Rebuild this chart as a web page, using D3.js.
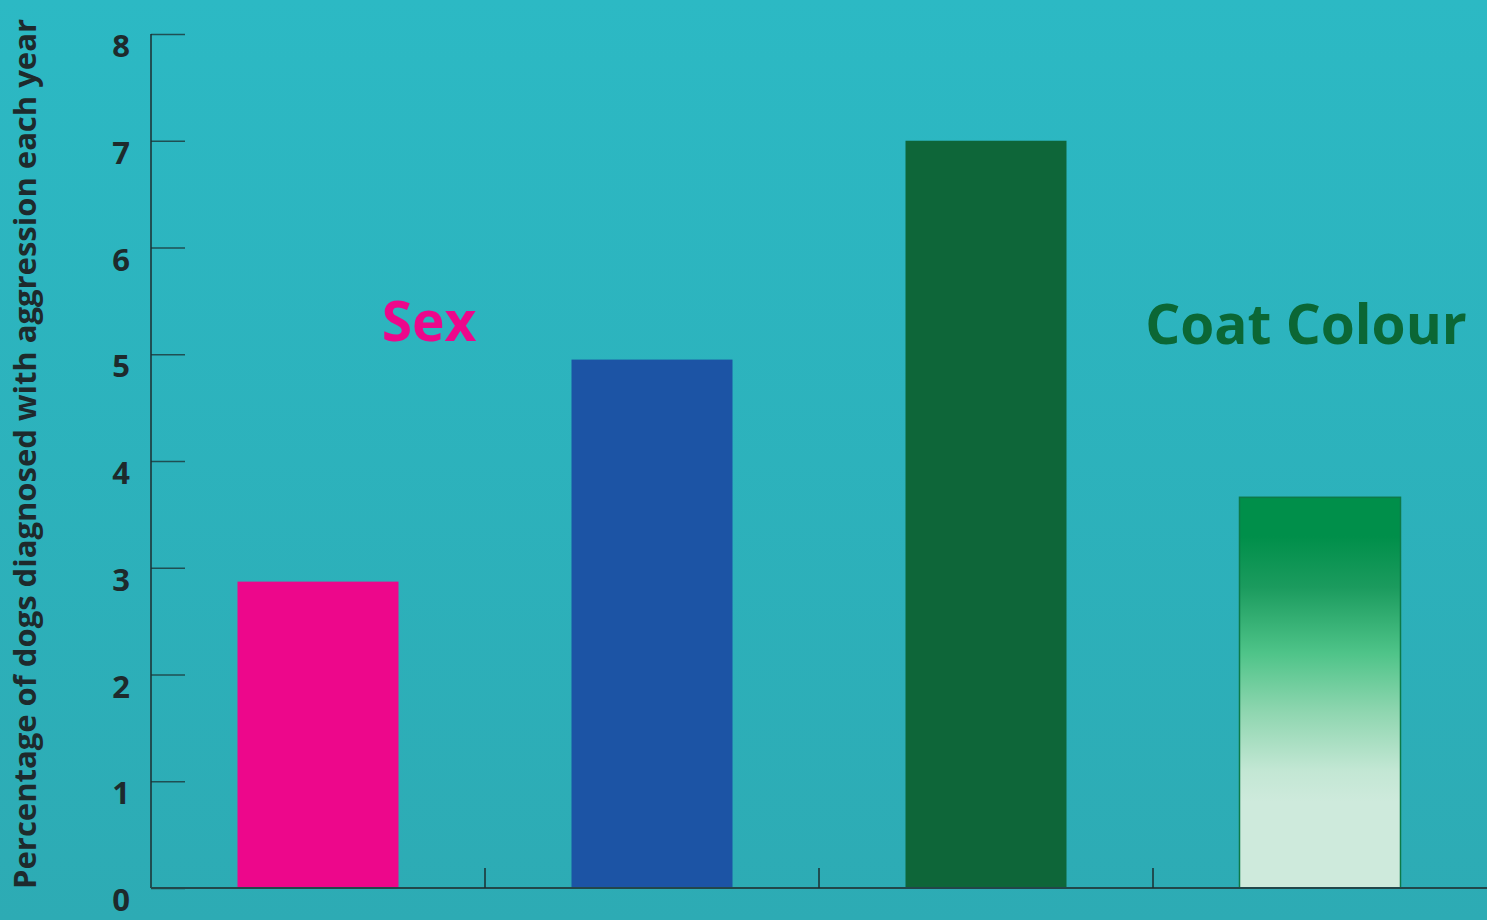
<!DOCTYPE html>
<html>
<head>
<meta charset="utf-8">
<script src="https://cdn.jsdelivr.net/npm/d3@7/dist/d3.min.js"></script>
<style>
  html, body { margin: 0; padding: 0; background: #2bb3bd; }
  svg { display: block; }
  text { font-family: "Open Sans", sans-serif; font-weight: 700; }
</style>
</head>
<body>
<svg id="chart" width="1487" height="920"></svg>
<script>
// Groups and their aggression rates (% per year)
const categories = ["Female", "Male", "Black", "Other"];
const values = [2.87, 4.95, 7.0, 3.66];
const yTicks = [0, 1, 2, 3, 4, 5, 6, 7, 8];
const groupLabels = ["Sex", "Coat Colour"];
const yTitle = "Percentage of dogs diagnosed with aggression each year";

const W = 1487, H = 920;
const margin = { left: 151, right: 0, top: 34, bottom: 32 };

const svg = d3.select("#chart");
const defs = svg.append("defs");

// Background wash
const bg = defs.append("linearGradient").attr("id", "bgGrad")
  .attr("x1", 0).attr("y1", 0).attr("x2", 0).attr("y2", 1);
bg.append("stop").attr("offset", "0%").attr("stop-color", "#2cb9c4");
bg.append("stop").attr("offset", "100%").attr("stop-color", "#2dabb4");
svg.append("rect").attr("width", W).attr("height", H).attr("fill", "url(#bgGrad)");

// Fade for the last bar
const fade = defs.append("linearGradient").attr("id", "fadeGrad")
  .attr("x1", 0).attr("y1", 0).attr("x2", 0).attr("y2", 1);
[["0%", "#008f4a"], ["10%", "#008f4a"], ["23%", "#1b9b5e"], ["40%", "#4fc489"],
 ["55%", "#8fd6b0"], ["70%", "#c3e7d4"], ["78%", "#ceeadc"], ["100%", "#ceeadc"]]
  .forEach(([o, c]) => fade.append("stop").attr("offset", o).attr("stop-color", c));

const fills = ["#ed078b", "#1c54a5", "#0e6639", "url(#fadeGrad)"];
const strokes = ["none", "none", "none", "#0d7a48"];

const x = d3.scaleBand()
  .domain(categories)
  .range([margin.left, W - margin.right])
  .paddingInner(0)
  .paddingOuter(0);

const y = d3.scaleLinear()
  .domain([0, 8])
  .range([H - margin.bottom, margin.top]);

const barW = x.bandwidth() * 0.482;

// Bars
svg.selectAll("rect.bar")
  .data(categories)
  .join("rect")
  .attr("class", "bar")
  .attr("x", d => x(d) + (x.bandwidth() - barW) / 2)
  .attr("y", (d, i) => y(values[i]))
  .attr("width", barW)
  .attr("height", (d, i) => y(0) - y(values[i]))
  .attr("fill", (d, i) => fills[i])
  .attr("stroke", (d, i) => strokes[i])
  .attr("stroke-width", 1.5);

// Y axis: ticks pointing inwards, labels hanging below each tick
const yAxis = d3.axisRight(y).tickValues(yTicks).tickSize(34).tickFormat("");
const gy = svg.append("g").attr("transform", `translate(${margin.left},0)`).call(yAxis);
gy.select(".domain").remove();
gy.selectAll(".tick line").attr("stroke", "#1f4f53").attr("stroke-width", 1.5);

svg.append("line")
  .attr("x1", margin.left).attr("x2", margin.left)
  .attr("y1", y(8)).attr("y2", y(0))
  .attr("stroke", "#1b2e31").attr("stroke-width", 1.5);

svg.selectAll("text.ytick")
  .data(yTicks)
  .join("text")
  .attr("class", "ytick")
  .attr("x", 121)
  .attr("y", d => y(d) + 23)
  .attr("text-anchor", "middle")
  .attr("font-size", 31)
  .attr("fill", "#1e2a2c")
  .text(d => d);

// X axis with ticks at band boundaries
const gx = svg.append("g").attr("transform", `translate(0,${y(0)})`);
gx.append("line")
  .attr("x1", margin.left).attr("x2", W)
  .attr("stroke", "#22474a").attr("stroke-width", 2);
gx.selectAll("line.sep")
  .data(categories.slice(1))
  .join("line")
  .attr("class", "sep")
  .attr("x1", d => x(d)).attr("x2", d => x(d))
  .attr("y1", 0).attr("y2", -20)
  .attr("stroke", "#1b2e31").attr("stroke-width", 1.5);

// Group labels
svg.append("text")
  .attr("x", 429)
  .attr("y", 341)
  .attr("text-anchor", "middle")
  .attr("font-size", 55)
  .attr("fill", "#ed078b")
  .text(groupLabels[0]);

svg.append("text")
  .attr("x", 1306)
  .attr("y", 344)
  .attr("text-anchor", "middle")
  .attr("font-size", 55)
  .attr("fill", "#0b6735")
  .text(groupLabels[1]);

// Y axis title
svg.append("text")
  .attr("transform", `translate(36,${(18 + 890) / 2}) rotate(-90)`)
  .attr("text-anchor", "middle")
  .attr("font-size", 31)
  .attr("fill", "#1e2a2c")
  .text(yTitle);
</script>
</body>
</html>
